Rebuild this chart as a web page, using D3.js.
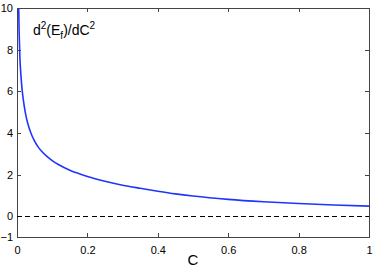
<!DOCTYPE html>
<html><head><meta charset="utf-8">
<script src="https://cdn.jsdelivr.net/npm/d3@7"></script>
<style>html,body{margin:0;padding:0;background:#fff;}svg{display:block;}</style>
</head><body>
<svg id="c" width="374" height="267"></svg>
<script>
const cValues = [0.003, 0.004, 0.006, 0.008, 0.011, 0.015, 0.02, 0.027, 0.034, 0.042, 0.05, 0.06, 0.07, 0.085, 0.1, 0.12, 0.15, 0.175, 0.2, 0.25, 0.3, 0.35, 0.4, 0.45, 0.5, 0.6, 0.7, 0.8, 0.9, 1.0];
const d2Values = [12.0, 10.9, 8.9, 7.7, 6.8, 6.0, 5.35, 4.7, 4.26, 3.89, 3.61, 3.33, 3.12, 2.87, 2.67, 2.46, 2.21, 2.05, 1.91, 1.68, 1.49, 1.34, 1.2, 1.073, 0.969, 0.808, 0.693, 0.606, 0.538, 0.483];
const xTicks = [0, 0.2, 0.4, 0.6, 0.8, 1];
const yTicks = [-1, 0, 2, 4, 6, 8, 10];
const refLine = [0];

const svg = d3.select("#c");
const L = 17, R = 369, T = 8, B = 237;
const x = d3.scaleLinear().domain([0, 1]).range([L, R]);
const y = d3.scaleLinear().domain([-1, 10]).range([B, T]);
const font = "Liberation Sans, Arial, Helvetica, sans-serif";
const axisColor = "#444";

svg.append("defs").append("clipPath").attr("id", "plotclip")
  .append("rect").attr("x", L).attr("y", T).attr("width", R - L).attr("height", B - T);

// box
svg.append("rect").attr("x", L).attr("y", T).attr("width", R - L).attr("height", B - T)
  .attr("fill", "none").attr("stroke", axisColor).attr("stroke-width", 1).attr("shape-rendering", "crispEdges");

function styleAxis(g, hideText) {
  g.select(".domain").remove();
  g.selectAll(".tick line").attr("stroke", axisColor).attr("shape-rendering", "crispEdges");
  g.selectAll(".tick text").attr("fill", "#000").style("font-family", font).style("font-size", "11px");
  if (hideText) g.selectAll(".tick text").remove();
}
svg.append("g").attr("transform", `translate(0,${B})`)
  .call(d3.axisBottom(x).tickValues(xTicks).tickSize(-4).tickPadding(9).tickFormat(d3.format("~g")))
  .call(g => styleAxis(g, false));
svg.append("g").attr("transform", `translate(0,${T})`)
  .call(d3.axisTop(x).tickValues(xTicks).tickSize(-4))
  .call(g => styleAxis(g, true));
svg.append("g").attr("transform", `translate(${L},0)`)
  .call(d3.axisLeft(y).tickValues(yTicks).tickSize(-4).tickPadding(4).tickFormat(d3.format("~g")))
  .call(g => styleAxis(g, false));
svg.append("g").attr("transform", `translate(${R},0)`)
  .call(d3.axisRight(y).tickValues(yTicks).tickSize(-4))
  .call(g => styleAxis(g, true));

// dashed zero line
svg.selectAll(".ref").data(refLine).enter().append("line")
  .attr("x1", x(0)).attr("x2", x(1)).attr("y1", d => y(d)).attr("y2", d => y(d))
  .attr("stroke", "#000").attr("stroke-width", 1).attr("stroke-dasharray", "5,3.3")
  .attr("shape-rendering", "crispEdges");

// curve
const pts = cValues.map((c, i) => [c, d2Values[i]]);
svg.append("path").datum(pts).attr("clip-path", "url(#plotclip)")
  .attr("fill", "none").attr("stroke", "#1f35ff").attr("stroke-width", 1.6)
  .attr("d", d3.line().x(d => x(d[0])).y(d => y(d[1])).curve(d3.curveMonotoneX));

// x label
svg.append("text").attr("x", x(0.5)).attr("y", 265).attr("text-anchor", "middle")
  .style("font-family", font).style("font-size", "15px").text("C");

// inner label
const lab = svg.append("text").attr("x", 33).attr("y", 35)
  .style("font-family", font).style("font-size", "14px").attr("fill", "#000");
lab.append("tspan").text("d");
lab.append("tspan").attr("dy", -6).style("font-size", "10px").text("2");
lab.append("tspan").attr("dy", 6).text("(E");
lab.append("tspan").attr("dy", 4).style("font-size", "10px").text("f");
lab.append("tspan").attr("dy", -4).text(")/dC");
lab.append("tspan").attr("dy", -6).style("font-size", "10px").text("2");
</script>
</body></html>
